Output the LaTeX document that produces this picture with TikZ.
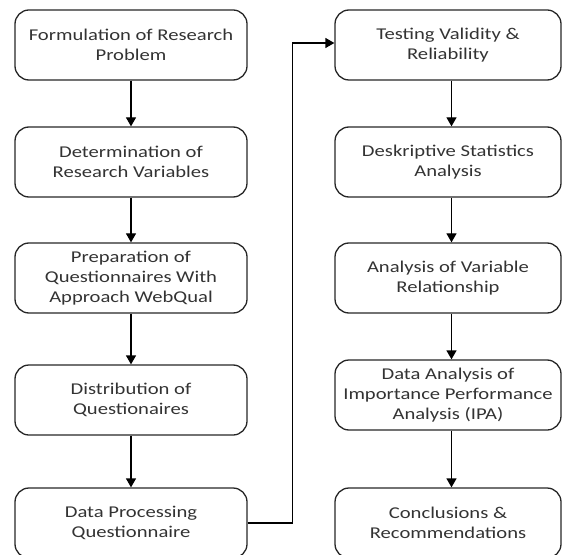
\documentclass[tikz,border=0pt]{standalone}
\usepackage{fontspec}
\setmainfont{Carlito}[FakeStretch=1.25]
\usetikzlibrary{arrows.meta}
\begin{document}
\begin{tikzpicture}[x=1bp,y=-1bp,
  box/.style={draw=black!85, line width=1.3bp, rounded corners=14bp, align=center,
    minimum height=70bp, inner sep=0pt, text=black!80,
    font=\fontsize{16.5bp}{20bp}\selectfont},
  lbox/.style={box, minimum width=232bp},
  rbox/.style={box, minimum width=226bp},
  arr/.style={draw=black, line width=1.3bp, -{Triangle[width=10bp,length=9bp]}}]
\useasboundingbox (0,0) rectangle (562,555);
\node[lbox] (l1) at (131,45) {Formulation of Research\\Problem};
\node[lbox] (l2) at (131,162) {Determination of\\Research Variables};
\node[lbox] (l3) at (131,278) {Preparation of\\Questionnaires With\\Approach WebQual};
\node[lbox] (l4) at (131,400) {Distribution of\\Questionaires};
\node[lbox] (l5) at (131,523) {Data Processing\\Questionnaire};
\node[rbox] (r1) at (448,45) {Testing Validity \&\\Reliability};
\node[rbox] (r2) at (448,162) {Deskriptive Statistics\\Analysis};
\node[rbox] (r3) at (448,278) {Analysis of Variable\\Relationship};
\node[rbox] (r4) at (448,395) {Data Analysis of\\Importance Performance\\Analysis (IPA)};
\node[rbox] (r5) at (448,523) {Conclusions \&\\Recommendations};
\draw[arr] (l1) -- (l2);
\draw[arr] (l2) -- (l3);
\draw[arr] (l3) -- (l4);
\draw[arr] (l4) -- (l5);
\draw[arr] ([xshift=3.5bp]r1.south) -- ([xshift=3.5bp]r2.north);
\draw[arr] ([xshift=3.5bp]r2.south) -- ([xshift=3.5bp]r3.north);
\draw[arr] ([xshift=3.5bp]r3.south) -- ([xshift=3.5bp]r4.north);
\draw[arr] ([xshift=3.5bp]r4.south) -- ([xshift=3.5bp]r5.north);
\draw[arr] (l5.east) -- ++(45,0) |- ([yshift=2bp]r1.west);
\end{tikzpicture}
\end{document}
